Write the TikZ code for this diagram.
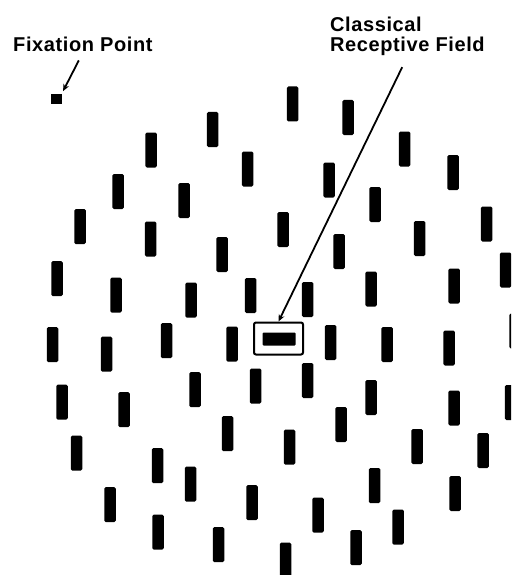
\documentclass[tikz,border=0pt]{standalone}
\usepackage{fontspec}
\setmainfont{Liberation Sans}
\newfontfamily\labfont[LetterSpace=3]{Liberation Sans}
\usepackage{tikz}
\usetikzlibrary{positioning,calc}
\usetikzlibrary{arrows.meta}
\tikzset{
  bar/.style={rectangle,fill=black,inner sep=0pt,minimum width=11.5pt,minimum height=35pt,rounded corners=1.5pt},
  fixpt/.style={rectangle,fill=black,inner sep=0pt,minimum width=11pt,minimum height=10pt},
  rfbox/.style={rectangle,draw=black,line width=2pt,inner sep=0pt,minimum width=49pt,minimum height=32pt,rounded corners=2pt},
  rfbar/.style={rectangle,fill=black,inner sep=0pt,minimum width=33pt,minimum height=13pt,rounded corners=1pt},
}
\tikzset{lab/.style={inner sep=0pt,font=\labfont\bfseries\fontsize{20}{20}\selectfont,anchor=base west},pointer/.style={draw=black,line width=1.8pt,-{Stealth[length=7pt,width=6pt]}}}
\begin{document}
\begin{tikzpicture}[x=1pt,y=-1pt]
\useasboundingbox (0,0) rectangle (511,575);
\clip (0,0) rectangle (511,575);
\fill[white] (0,0) rectangle (511,575);
% labels
\node[lab] (fixlab) at (13,52) {Fixation Point};
\node[lab] (rfa) at (330,32) {Classical};
\node[lab] (rfb) at (330,52) {Receptive Field};
% fixation point and classical receptive field
\node[fixpt] (fix) at (56,99) {};
\node[rfbox] (crf) at (278.5,338.5) {};
\node[rfbar] (crfbar) at (279,339) {};
\draw[pointer,shorten <=9pt,shorten >=3pt] (fixlab.south) -- (fix.north east);
\draw[pointer,shorten <=12pt] (rfb.south) -- (crf.north);
% surround bars
\node[bar] (b1) at (151,150) {};
\node[bar] (b2) at (212.5,129.5) {};
\node[bar] (b3) at (292.5,104) {};
\node[bar] (b4) at (348,117.5) {};
\node[bar] (b5) at (404.5,149) {};
\node[bar] (b6) at (247.5,169) {};
\node[bar] (b7) at (118,191.5) {};
\node[bar] (b8) at (184,200.5) {};
\node[bar] (b9) at (80,226.5) {};
\node[bar] (b10) at (150.5,239) {};
\node[bar] (b11) at (222,254.5) {};
\node[bar] (b12) at (57,278.5) {};
\node[bar] (b13) at (116,295) {};
\node[bar] (b14) at (191,300) {};
\node[bar] (b15) at (250.5,295.5) {};
\node[bar] (b16) at (52.5,344.5) {};
\node[bar] (b17) at (106.5,354) {};
\node[bar] (b18) at (166.5,340.5) {};
\node[bar] (b19) at (232,344) {};
\node[bar] (b20) at (329,180) {};
\node[bar] (b21) at (453,172.5) {};
\node[bar] (b22) at (375,204.5) {};
\node[bar] (b23) at (283,229.5) {};
\node[bar] (b24) at (486.5,224) {};
\node[bar] (b25) at (419.5,238.5) {};
\node[bar] (b26) at (339,251.5) {};
\node[bar] (b27) at (505.5,270) {};
\node[bar] (b28) at (307.5,299.5) {};
\node[bar] (b29) at (371,289) {};
\node[bar] (b30) at (454,286) {};
\node[bar] (b31) at (330.5,342.5) {};
\node[bar] (b32) at (387,344.5) {};
\node[bar] (b33) at (449,348) {};
\node[bar] (b34) at (515,331) {};
\node[bar] (b35) at (62,402) {};
\node[bar] (b36) at (124,409.5) {};
\node[bar] (b37) at (195,389.5) {};
\node[bar] (b38) at (255.5,386) {};
\node[bar] (b39) at (76.5,453) {};
\node[bar] (b40) at (227.5,433.5) {};
\node[bar] (b41) at (157.5,465.5) {};
\node[bar] (b42) at (190.5,484) {};
\node[bar] (b43) at (252,502.5) {};
\node[bar] (b44) at (110,504.5) {};
\node[bar] (b45) at (158,532) {};
\node[bar] (b46) at (218.5,544.5) {};
\node[bar] (b47) at (307.5,380.5) {};
\node[bar] (b48) at (371,397.5) {};
\node[bar] (b49) at (454,408) {};
\node[bar] (b50) at (510.5,402.5) {};
\node[bar] (b51) at (341,424.5) {};
\node[bar] (b52) at (289.5,447) {};
\node[bar] (b53) at (417,446.5) {};
\node[bar] (b54) at (483,450.5) {};
\node[bar] (b55) at (374.5,485.5) {};
\node[bar] (b56) at (455,493.5) {};
\node[bar] (b57) at (318,515) {};
\node[bar] (b58) at (398,527) {};
\node[bar] (b59) at (356,547.5) {};
\node[bar] (b60) at (285.5,560) {};
\end{tikzpicture}
\end{document}
